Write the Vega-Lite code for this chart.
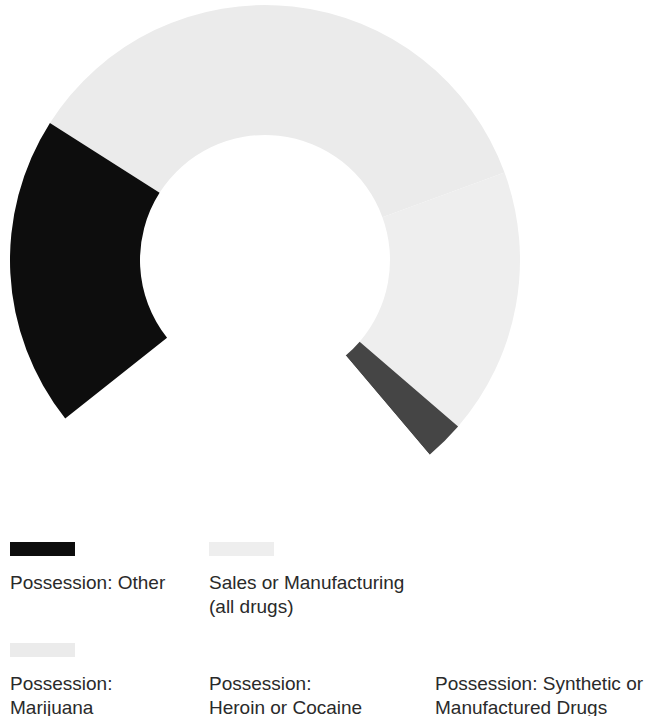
{
  "$schema": "https://vega.github.io/schema/vega-lite/v6.json",
  "padding": 0,
  "spacing": 0,
  "background": "white",
  "config": {"view": {"stroke": null}, "concat": {"spacing": 0}},
  "datasets": {
    "segs": [
      {"category": "Possession: Marijuana", "value": 35.4, "order": 1, "col": 0, "row": 1, "label": "Possession:\nMarijuana", "swatch": true},
      {"category": "Sales or Manufacturing (all drugs)", "value": 16.9, "order": 2, "col": 1, "row": 0, "label": "Sales or Manufacturing\n(all drugs)", "swatch": true},
      {"category": "Possession: Synthetic or Manufactured Drugs", "value": 2.5, "order": 3, "col": 2, "row": 1, "label": "Possession: Synthetic or\nManufactured Drugs", "swatch": false},
      {"category": "Possession: Heroin or Cocaine", "value": 25.5, "order": 4, "col": 1, "row": 1, "label": "Possession:\nHeroin or Cocaine", "swatch": false},
      {"category": "Possession: Other", "value": 19.7, "order": 5, "col": 0, "row": 0, "label": "Possession: Other", "swatch": true}
    ]
  },
  "vconcat": [
    {
      "width": 530,
      "height": 520,
      "data": {"name": "segs"},
      "mark": {"type": "arc", "outerRadius": 255, "innerRadius": 125},
      "encoding": {
        "theta": {"field": "value", "type": "quantitative", "stack": true, "scale": {"range": [5.27962, 11.56281]}},
        "order": {"field": "order", "type": "quantitative"},
        "color": {
          "field": "category", "type": "nominal", "legend": null,
          "scale": {
            "domain": ["Possession: Marijuana", "Sales or Manufacturing (all drugs)", "Possession: Synthetic or Manufactured Drugs", "Possession: Heroin or Cocaine", "Possession: Other"],
            "range": ["#ebebeb", "#eeeeee", "#454545", "#ffffff", "#0d0d0d"]
          }
        }
      }
    },
    {
      "width": 649,
      "height": 196,
      "data": {"name": "segs"},
      "layer": [
        {
          "transform": [{"filter": "datum.swatch"}],
          "mark": {"type": "rect", "x2Offset": 65, "y2Offset": 14},
          "encoding": {
            "x": {"field": "col", "type": "quantitative", "axis": null, "scale": {"domain": [0, 1, 2], "range": [10, 209, 435], "zero": false, "nice": false}},
            "x2": {"field": "col"},
            "y": {"field": "row", "type": "quantitative", "axis": null, "scale": {"domain": [0, 1], "range": [22, 123], "zero": false, "nice": false}},
            "y2": {"field": "row"},
            "color": {
              "field": "category", "type": "nominal", "legend": null,
              "scale": {
                "domain": ["Possession: Marijuana", "Sales or Manufacturing (all drugs)", "Possession: Synthetic or Manufactured Drugs", "Possession: Heroin or Cocaine", "Possession: Other"],
                "range": ["#ebebeb", "#eeeeee", "#454545", "#ffffff", "#0d0d0d"]
              }
            }
          }
        },
        {
          "mark": {"type": "text", "align": "left", "baseline": "alphabetic", "dy": 47, "lineBreak": "\n", "lineHeight": 23.5, "font": "Liberation Sans", "fontSize": 19, "color": "#2a2a2a"},
          "encoding": {
            "x": {"field": "col", "type": "quantitative", "axis": null, "scale": {"domain": [0, 1, 2], "range": [10, 209, 435], "zero": false, "nice": false}},
            "y": {"field": "row", "type": "quantitative", "axis": null, "scale": {"domain": [0, 1], "range": [22, 122], "zero": false, "nice": false}},
            "text": {"field": "label", "type": "nominal"}
          }
        }
      ]
    }
  ]
}
